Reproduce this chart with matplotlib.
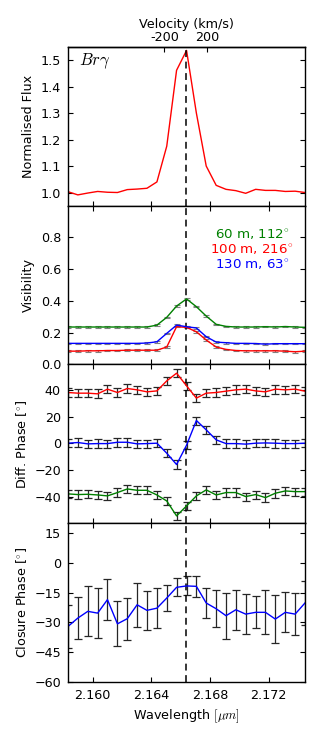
import numpy as np
import matplotlib
matplotlib.use("Agg")
import matplotlib.pyplot as plt

# ---------------- data ----------------
wavelength = [2.15832, 2.15899, 2.15967, 2.16034, 2.16101, 2.16169, 2.16236,
              2.16303, 2.16370, 2.16438, 2.16505, 2.16572, 2.16640, 2.16707,
              2.16774, 2.16842, 2.16909, 2.16976, 2.17043, 2.17111, 2.17178,
              2.17245, 2.17313, 2.17380, 2.17447]
lam0 = 2.16634  # line centre (um)

flux = [1.003, 0.991, 0.998, 1.004, 1.001, 1.000, 1.011, 1.013, 1.016, 1.040,
        1.175, 1.462, 1.537, 1.300, 1.100, 1.027, 1.012, 1.007, 0.997, 1.012,
        1.008, 1.008, 1.004, 1.005, 1.000]

vis_60 = [0.236, 0.236, 0.236, 0.236, 0.236, 0.236, 0.236, 0.236, 0.236, 0.248,
          0.297, 0.368, 0.413, 0.364, 0.305, 0.253, 0.240, 0.236, 0.236, 0.236,
          0.238, 0.236, 0.239, 0.236, 0.234]
vis_100 = [0.084, 0.084, 0.086, 0.086, 0.088, 0.088, 0.090, 0.090, 0.090, 0.090,
           0.110, 0.238, 0.234, 0.206, 0.154, 0.110, 0.095, 0.088, 0.086, 0.086,
           0.086, 0.086, 0.084, 0.080, 0.084]
vis_130 = [0.133, 0.133, 0.133, 0.133, 0.133, 0.133, 0.133, 0.133, 0.135, 0.143,
           0.196, 0.248, 0.238, 0.230, 0.175, 0.141, 0.137, 0.133, 0.133, 0.132,
           0.128, 0.131, 0.131, 0.131, 0.131]
vis_err = [0.005] * 25

dphi_60 = [-38.0, -38.5, -38.3, -38.8, -39.5, -37.0, -34.3, -35.3, -35.3, -38.8,
           -43.3, -54.5, -47.0, -39.5, -35.0, -38.8, -37.0, -37.0, -40.0, -38.5,
           -40.8, -37.5, -35.8, -36.3, -36.3]
dphi_100 = [38.0, 37.5, 37.5, 37.0, 40.5, 38.0, 41.0, 40.0, 38.5, 39.2,
            46.7, 52.5, 43.0, 33.8, 37.5, 38.0, 39.0, 40.0, 40.5, 39.2,
            38.5, 40.5, 40.0, 40.5, 39.0]
dphi_130 = [0.0, 0.5, -0.5, -0.3, -0.3, 0.7, 0.7, -0.5, -0.3, 0.0,
            -7.5, -16.0, -1.5, 17.0, 10.0, 2.5, -0.3, -0.3, -0.7, 0.0,
            0.2, 0.0, -0.3, -0.3, 0.0]
dphi_err = [3.0, 3.2, 3.0, 3.3, 3.0, 3.5, 3.2, 3.0, 3.0, 3.0,
            3.0, 3.2, 3.0, 3.0, 3.0, 3.0, 3.2, 3.3, 3.0, 3.0,
            3.2, 3.3, 3.0, 3.0, 3.0]

cphi = [-32.0, -27.8, -24.4, -25.3, -18.5, -30.7, -28.1, -21.1, -23.9, -22.8,
        -17.7, -12.3, -11.6, -11.8, -20.2, -23.1, -26.6, -23.6, -25.8, -24.9,
        -24.9, -28.3, -24.9, -25.8, -20.2]
cphi_err = [11.0, 10.5, 12.6, 12.6, 10.5, 11.3, 10.5, 11.0, 9.8, 10.0,
            6.6, 4.6, 4.8, 5.2, 7.6, 9.3, 11.5, 10.0, 10.0, 8.0,
            11.1, 12.0, 10.0, 10.6, 11.0]

baseline_labels = ["60 m, 112$^{\\circ}$", "100 m, 216$^{\\circ}$", "130 m, 63$^{\\circ}$"]
vel_ticks = [-200, 200]
vel_ticklabels = ["-200", "200"]
x_ticks = [2.160, 2.164, 2.168, 2.172]

# ---------------- style ----------------
plt.rcParams.update({
    "font.family": ["DejaVu Sans"],
    "font.size": 9.2,
    "mathtext.fontset": "cm",
    "xtick.direction": "in",
    "ytick.direction": "in",
    "xtick.major.size": 3.6,
    "ytick.major.size": 3.6,
    "xtick.major.pad": 5,
    "ytick.major.pad": 5,
    "xtick.labelsize": 9.2,
    "ytick.labelsize": 9.2,
    "axes.labelsize": 9.2,
    "axes.linewidth": 1.0,
    "lines.linewidth": 1.0,
})

fig = plt.figure(figsize=(3.2, 7.4), dpi=100)
gs = fig.add_gridspec(4, 1, left=0.2125, right=0.953, bottom=0.0784, top=0.9365, hspace=0)
ax1 = fig.add_subplot(gs[0])
ax2 = fig.add_subplot(gs[1], sharex=ax1)
ax3 = fig.add_subplot(gs[2], sharex=ax1)
ax4 = fig.add_subplot(gs[3], sharex=ax1)

g = "#008000"
eb_kw = dict(ecolor="0.15", elinewidth=0.9, capsize=2.6, capthick=0.9)

# Flux
ax1.plot(wavelength, flux, color="r")
ax1.set_ylim(0.95, 1.55)
ax1.set_yticks([1.0, 1.1, 1.2, 1.3, 1.4, 1.5])
ax1.set_ylabel("Normalised Flux")
ax1.text(0.045, 0.91, r"$Br\gamma$", transform=ax1.transAxes, fontsize=12,
         ha="left", va="center")
ax1.tick_params(axis="x", top=False, bottom=True, labelbottom=False)
ax1.tick_params(axis="y", left=True, right=True)

c = 299792.458
sec = ax1.secondary_xaxis("top", functions=(lambda l: c * (np.asarray(l) - lam0) / lam0,
                                            lambda v: lam0 * (1 + np.asarray(v) / c)))
sec.set_xticks(vel_ticks)
sec.set_xticklabels(vel_ticklabels)
sec.tick_params(direction="in", length=3.6, pad=2)
sec.set_xlabel("Velocity (km/s)", labelpad=2)

# Visibility
vis_series = [vis_60, vis_100, vis_130]
for vals, col in zip(vis_series, [g, "r", "b"]):
    ax2.errorbar(wavelength, vals, yerr=vis_err, color=col, ecolor="0.5",
                 elinewidth=0.8, capsize=2.4, capthick=0.8)
ax2.set_ylim(0.0, 1.0)
ax2.set_yticks([0.0, 0.2, 0.4, 0.6, 0.8])
ax2.set_ylabel("Visibility")
for lab, col, yy in zip(baseline_labels, [g, "r", "b"], [0.819, 0.726, 0.628]):
    ax2.text(0.777, yy, lab, color=col, transform=ax2.transAxes, ha="center",
             va="center", fontsize=9.6)

# Differential phase
for vals, col in zip([dphi_100, dphi_130, dphi_60], ["r", "b", g]):
    ax3.errorbar(wavelength, vals, yerr=dphi_err, color=col, **eb_kw)
ax3.set_ylim(-60, 59)
ax3.set_yticks([-40, -20, 0, 20, 40])
ax3.set_ylabel("Diff. Phase [$^{\\circ}$]")

# Closure phase
ax4.errorbar(wavelength, cphi, yerr=cphi_err, color="b", **eb_kw)
ax4.set_ylim(-60, 20)
ax4.set_yticks([-60, -45, -30, -15, 0, 15])
ax4.set_ylabel("Closure Phase [$^{\\circ}$]")
ax4.set_xlabel("Wavelength $[\\mu m]$")

for ax in (ax2, ax3, ax4):
    ax.tick_params(axis="x", top=True, bottom=True)
    ax.tick_params(axis="y", left=True, right=True)
for ax in (ax2, ax3):
    ax.tick_params(axis="x", labelbottom=False)

ax4.set_xlim(wavelength[0], wavelength[-1])
ax4.set_xticks(x_ticks)
ax4.set_xticklabels(["%.3f" % t for t in x_ticks])

for ax in (ax1, ax2, ax3, ax4):
    ax.axvline(lam0, color="k", linestyle="--", linewidth=1.1, dashes=(4.5, 3))

fig.savefig("out.png", dpi=100, facecolor="white")
